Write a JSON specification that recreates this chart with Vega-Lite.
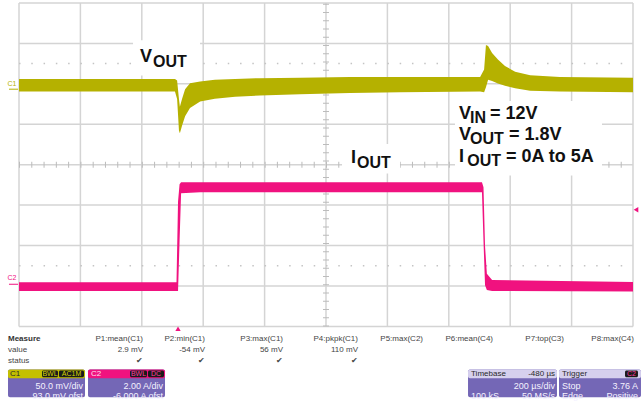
{
  "$schema": "https://vega.github.io/schema/vega-lite/v6.json",
  "width": 642,
  "height": 402,
  "padding": 0,
  "autosize": {"type": "fit", "contains": "padding"},
  "background": "white",
  "config": {"view": {"stroke": null}, "text": {"font": "Liberation Sans"}},
  "resolve": {"scale": {"x": "independent", "y": "independent"}},
  "layer": [
    {
      "layer": [
        {
          "data": {"values": [{"xd": 0}, {"xd": 1}, {"xd": 2}, {"xd": 3}, {"xd": 4}, {"xd": 5}, {"xd": 6}, {"xd": 7}, {"xd": 8}, {"xd": 9}, {"xd": 10}]},
          "mark": {"type": "rule", "color": "#d4d4d4", "strokeWidth": 1.5},
          "encoding": {
            "x": {"field": "xd", "type": "quantitative", "scale": {"domain": [-0.30945, 10.1466], "nice": false, "zero": false}, "axis": null},
            "y": {"datum": -4, "type": "quantitative", "scale": {"domain": [-5.697, 4.0485], "nice": false, "zero": false}, "axis": null},
            "y2": {"datum": 4}
          }
        },
        {
          "data": {"values": [{"yd": -4}, {"yd": -3}, {"yd": -2}, {"yd": -1}, {"yd": 0}, {"yd": 1}, {"yd": 2}, {"yd": 3}, {"yd": 4}]},
          "mark": {"type": "rule", "color": "#d4d4d4", "strokeWidth": 1.5},
          "encoding": {
            "y": {"field": "yd", "type": "quantitative", "scale": {"domain": [-5.697, 4.0485], "nice": false, "zero": false}, "axis": null},
            "x": {"datum": 0, "type": "quantitative", "scale": {"domain": [-0.30945, 10.1466], "nice": false, "zero": false}, "axis": null},
            "x2": {"datum": 10}
          }
        },
        {
          "data": {"values": [{"yd": 0}]},
          "mark": {"type": "rule", "color": "#bcbcbc", "strokeWidth": 6, "strokeDash": [1, 11.28]},
          "encoding": {
            "y": {"field": "yd", "type": "quantitative", "scale": {"domain": [-5.697, 4.0485], "nice": false, "zero": false}, "axis": null},
            "x": {"datum": 0, "type": "quantitative", "scale": {"domain": [-0.30945, 10.1466], "nice": false, "zero": false}, "axis": null},
            "x2": {"datum": 10}
          }
        },
        {
          "data": {"values": [{"yd": 2.5}, {"yd": -2.5}]},
          "mark": {"type": "rule", "color": "#c4c4c4", "strokeWidth": 1.5, "strokeDash": [1.5, 10.78]},
          "encoding": {
            "y": {"field": "yd", "type": "quantitative", "scale": {"domain": [-5.697, 4.0485], "nice": false, "zero": false}, "axis": null},
            "x": {"datum": 0, "type": "quantitative", "scale": {"domain": [-0.30945, 10.1466], "nice": false, "zero": false}, "axis": null},
            "x2": {"datum": 10}
          }
        },
        {
          "data": {"values": [{"xd": 5}]},
          "mark": {"type": "rule", "color": "#bcbcbc", "strokeWidth": 6, "strokeDash": [1, 7.25]},
          "encoding": {
            "x": {"field": "xd", "type": "quantitative", "scale": {"domain": [-0.30945, 10.1466], "nice": false, "zero": false}, "axis": null},
            "y": {"datum": -4, "type": "quantitative", "scale": {"domain": [-5.697, 4.0485], "nice": false, "zero": false}, "axis": null},
            "y2": {"datum": 4}
          }
        },
        {
          "data": {"values": [
            {"x1": 1.857, "x2": 2.948, "y1": 3.079, "y2": 2.206},
            {"x1": 5.261, "x2": 6.205, "y1": 0.509, "y2": -0.218},
            {"x1": 7.101, "x2": 9.495, "y1": 1.576, "y2": -0.267}
          ]},
          "mark": {"type": "rect", "color": "white"},
          "encoding": {
            "x": {"field": "x1", "type": "quantitative", "scale": {"domain": [-0.30945, 10.1466], "nice": false, "zero": false}, "axis": null},
            "x2": {"field": "x2"},
            "y": {"field": "y1", "type": "quantitative", "scale": {"domain": [-5.697, 4.0485], "nice": false, "zero": false}, "axis": null},
            "y2": {"field": "y2"}
          }
        }
      ]
    },
    {
      "data": {"values": [
        {"t": -520, "hi": 6.0, "lo": -9.5},
        {"t": -12, "hi": 6.0, "lo": -9.5},
        {"t": -5, "hi": 4.2, "lo": -18.8},
        {"t": 1, "hi": -18.8, "lo": -57.6},
        {"t": 4, "hi": -28.5, "lo": -61.2},
        {"t": 11, "hi": -18.8, "lo": -52.0},
        {"t": 21, "hi": -6.7, "lo": -40.0},
        {"t": 37, "hi": 0.6, "lo": -30.0},
        {"t": 70, "hi": 3.0, "lo": -22.0},
        {"t": 118, "hi": 5.0, "lo": -18.5},
        {"t": 184, "hi": 6.0, "lo": -16.0},
        {"t": 265, "hi": 7.0, "lo": -14.5},
        {"t": 395, "hi": 7.5, "lo": -13.0},
        {"t": 558, "hi": 8.5, "lo": -11.5},
        {"t": 721, "hi": 8.5, "lo": -10.5},
        {"t": 982, "hi": 8.5, "lo": -9.5},
        {"t": 995, "hi": 17.6, "lo": -10.5},
        {"t": 1001, "hi": 47.9, "lo": -4.2},
        {"t": 1008, "hi": 46.7, "lo": 5.0},
        {"t": 1021, "hi": 38.0, "lo": 3.5},
        {"t": 1040, "hi": 30.0, "lo": 0.5},
        {"t": 1063, "hi": 22.0, "lo": -2.5},
        {"t": 1096, "hi": 15.0, "lo": -5.5},
        {"t": 1145, "hi": 10.5, "lo": -8.5},
        {"t": 1242, "hi": 8.5, "lo": -9.5},
        {"t": 1480, "hi": 7.5, "lo": -10.5}
      ]},
      "mark": {"type": "area", "color": "#b5b100", "opacity": 1},
      "encoding": {
        "x": {"field": "t", "type": "quantitative", "scale": {"domain": [-581.9, 1509.3], "nice": false, "zero": false}, "axis": null},
        "y": {"field": "hi", "type": "quantitative", "scale": {"domain": [-384.85, 102.42], "nice": false, "zero": false}, "axis": null},
        "y2": {"field": "lo"}
      }
    },
    {
      "data": {"values": [
        {"t": -520, "hi": 0.18, "lo": -0.25},
        {"t": -7, "hi": 0.18, "lo": -0.25},
        {"t": -2, "hi": 4.16, "lo": -0.25},
        {"t": 3, "hi": 5.03, "lo": 2.22},
        {"t": 8, "hi": 5.13, "lo": 4.59},
        {"t": 70, "hi": 5.13, "lo": 4.64},
        {"t": 988, "hi": 5.13, "lo": 4.64},
        {"t": 993, "hi": 4.88, "lo": 2.22},
        {"t": 998, "hi": 1.98, "lo": 0.04},
        {"t": 1004, "hi": 0.6, "lo": -0.2},
        {"t": 1021, "hi": 0.3, "lo": -0.25},
        {"t": 1480, "hi": 0.2, "lo": -0.28}
      ]},
      "mark": {"type": "area", "color": "#f0127f", "opacity": 1},
      "encoding": {
        "x": {"field": "t", "type": "quantitative", "scale": {"domain": [-581.9, 1509.3], "nice": false, "zero": false}, "axis": null},
        "y": {"field": "hi", "type": "quantitative", "scale": {"domain": [-5.394, 14.097], "nice": false, "zero": false}, "axis": null},
        "y2": {"field": "lo"}
      }
    },
    {
      "layer": [
        {
          "data": {"values": [
            {"x": 1.971, "y": 2.545, "label": "V"},
            {"x": 5.407, "y": 0.048, "label": "I"},
            {"x": 7.166, "y": 1.139, "label": "V"},
            {"x": 7.67, "y": 1.139, "label": "= 12V"},
            {"x": 7.166, "y": 0.606, "label": "V"},
            {"x": 7.98, "y": 0.606, "label": "= 1.8V"},
            {"x": 7.166, "y": 0.073, "label": "I"},
            {"x": 7.93, "y": 0.073, "label": "= 0A to 5A"}
          ]},
          "mark": {"type": "text", "fontSize": 18, "fontWeight": "bold", "align": "left", "baseline": "alphabetic", "color": "#111111"},
          "encoding": {
            "x": {"field": "x", "type": "quantitative", "scale": {"domain": [-0.30945, 10.1466], "nice": false, "zero": false}, "axis": null},
            "y": {"field": "y", "type": "quantitative", "scale": {"domain": [-5.697, 4.0485], "nice": false, "zero": false}, "axis": null},
            "text": {"field": "label"}
          }
        },
        {
          "data": {"values": [
            {"x": 2.182, "y": 2.424, "label": "OUT"},
            {"x": 5.505, "y": -0.073, "label": "OUT"},
            {"x": 7.345, "y": 1.042, "label": "IN"},
            {"x": 7.345, "y": 0.509, "label": "OUT"},
            {"x": 7.3, "y": -0.024, "label": "OUT"}
          ]},
          "mark": {"type": "text", "fontSize": 16, "fontWeight": "bold", "align": "left", "baseline": "alphabetic", "color": "#111111"},
          "encoding": {
            "x": {"field": "x", "type": "quantitative", "scale": {"domain": [-0.30945, 10.1466], "nice": false, "zero": false}, "axis": null},
            "y": {"field": "y", "type": "quantitative", "scale": {"domain": [-5.697, 4.0485], "nice": false, "zero": false}, "axis": null},
            "text": {"field": "label"}
          }
        },
        {
          "data": {"values": [{"x": -0.114, "y": 1.988, "label": "C1"}]},
          "mark": {"type": "text", "fontSize": 7, "align": "center", "baseline": "middle", "color": "#b5b100"},
          "encoding": {
            "x": {"field": "x", "type": "quantitative", "scale": {"domain": [-0.30945, 10.1466], "nice": false, "zero": false}, "axis": null},
            "y": {"field": "y", "type": "quantitative", "scale": {"domain": [-5.697, 4.0485], "nice": false, "zero": false}, "axis": null},
            "text": {"field": "label"}
          }
        },
        {
          "data": {"values": [{"x": -0.114, "y": -2.812, "label": "C2"}]},
          "mark": {"type": "text", "fontSize": 7, "align": "center", "baseline": "middle", "color": "#f0127f"},
          "encoding": {
            "x": {"field": "x", "type": "quantitative", "scale": {"domain": [-0.30945, 10.1466], "nice": false, "zero": false}, "axis": null},
            "y": {"field": "y", "type": "quantitative", "scale": {"domain": [-5.697, 4.0485], "nice": false, "zero": false}, "axis": null},
            "text": {"field": "label"}
          }
        },
        {
          "data": {"values": [{"x1": -0.163, "x2": -0.016, "y": 1.867}]},
          "mark": {"type": "rule", "strokeWidth": 1, "color": "#b5b100"},
          "encoding": {
            "x": {"field": "x1", "type": "quantitative", "scale": {"domain": [-0.30945, 10.1466], "nice": false, "zero": false}, "axis": null},
            "x2": {"field": "x2"},
            "y": {"field": "y", "type": "quantitative", "scale": {"domain": [-5.697, 4.0485], "nice": false, "zero": false}, "axis": null}
          }
        },
        {
          "data": {"values": [{"x1": -0.163, "x2": -0.016, "y": -2.958}]},
          "mark": {"type": "rule", "strokeWidth": 1, "color": "#f0127f"},
          "encoding": {
            "x": {"field": "x1", "type": "quantitative", "scale": {"domain": [-0.30945, 10.1466], "nice": false, "zero": false}, "axis": null},
            "x2": {"field": "x2"},
            "y": {"field": "y", "type": "quantitative", "scale": {"domain": [-5.697, 4.0485], "nice": false, "zero": false}, "axis": null}
          }
        },
        {
          "data": {"values": [{"x": 2.59, "y": -4.06}]},
          "mark": {"type": "point", "shape": "triangle-up", "filled": true, "size": 28, "color": "#f0127f", "opacity": 1},
          "encoding": {
            "x": {"field": "x", "type": "quantitative", "scale": {"domain": [-0.30945, 10.1466], "nice": false, "zero": false}, "axis": null},
            "y": {"field": "y", "type": "quantitative", "scale": {"domain": [-5.697, 4.0485], "nice": false, "zero": false}, "axis": null}
          }
        },
        {
          "data": {"values": [{"x": 10.049, "y": -1.115}]},
          "mark": {"type": "point", "shape": "triangle-left", "filled": true, "size": 28, "color": "#f0127f", "opacity": 1},
          "encoding": {
            "x": {"field": "x", "type": "quantitative", "scale": {"domain": [-0.30945, 10.1466], "nice": false, "zero": false}, "axis": null},
            "y": {"field": "y", "type": "quantitative", "scale": {"domain": [-5.697, 4.0485], "nice": false, "zero": false}, "axis": null}
          }
        },
        {
          "data": {"values": [
            {"x1": -0.179, "x2": 1.075},
            {"x1": 1.124, "x2": 2.378},
            {"x1": 7.313, "x2": 8.762},
            {"x1": 8.795, "x2": 10.13}
          ]},
          "mark": {"type": "rect", "color": "#7467b6", "cornerRadius": 2},
          "encoding": {
            "x": {"field": "x1", "type": "quantitative", "scale": {"domain": [-0.30945, 10.1466], "nice": false, "zero": false}, "axis": null},
            "x2": {"field": "x2"},
            "y": {"datum": -5.067, "type": "quantitative", "scale": {"domain": [-5.697, 4.0485], "nice": false, "zero": false}, "axis": null},
            "y2": {"datum": -5.75}
          }
        },
        {
          "data": {"values": [{"x1": -0.179, "x2": 1.075}]},
          "mark": {"type": "rect", "color": "#c4c000", "cornerRadius": 2},
          "encoding": {
            "x": {"field": "x1", "type": "quantitative", "scale": {"domain": [-0.30945, 10.1466], "nice": false, "zero": false}, "axis": null},
            "x2": {"field": "x2"},
            "y": {"datum": -5.067, "type": "quantitative", "scale": {"domain": [-5.697, 4.0485], "nice": false, "zero": false}, "axis": null},
            "y2": {"datum": -5.285}
          }
        },
        {
          "data": {"values": [{"x1": 1.124, "x2": 2.378}]},
          "mark": {"type": "rect", "color": "#f0127f", "cornerRadius": 2},
          "encoding": {
            "x": {"field": "x1", "type": "quantitative", "scale": {"domain": [-0.30945, 10.1466], "nice": false, "zero": false}, "axis": null},
            "x2": {"field": "x2"},
            "y": {"datum": -5.067, "type": "quantitative", "scale": {"domain": [-5.697, 4.0485], "nice": false, "zero": false}, "axis": null},
            "y2": {"datum": -5.285}
          }
        },
        {
          "data": {"values": [{"x1": 7.313, "x2": 8.762}, {"x1": 8.795, "x2": 10.13}]},
          "mark": {"type": "rect", "color": "#d6d0ee", "cornerRadius": 2},
          "encoding": {
            "x": {"field": "x1", "type": "quantitative", "scale": {"domain": [-0.30945, 10.1466], "nice": false, "zero": false}, "axis": null},
            "x2": {"field": "x2"},
            "y": {"datum": -5.067, "type": "quantitative", "scale": {"domain": [-5.697, 4.0485], "nice": false, "zero": false}, "axis": null},
            "y2": {"datum": -5.285}
          }
        },
        {
          "data": {"values": [
            {"x1": 0.375, "x2": 0.635},
            {"x1": 0.651, "x2": 1.059},
            {"x1": 1.808, "x2": 2.085},
            {"x1": 2.101, "x2": 2.362},
            {"x1": 9.87, "x2": 10.081}
          ]},
          "mark": {"type": "rect", "color": "#1a1a1a", "cornerRadius": 1.5},
          "encoding": {
            "x": {"field": "x1", "type": "quantitative", "scale": {"domain": [-0.30945, 10.1466], "nice": false, "zero": false}, "axis": null},
            "x2": {"field": "x2"},
            "y": {"datum": -5.091, "type": "quantitative", "scale": {"domain": [-5.697, 4.0485], "nice": false, "zero": false}, "axis": null},
            "y2": {"datum": -5.261}
          }
        },
        {
          "data": {"values": [{"x": 0.505, "label": "BWL"}, {"x": 0.855, "label": "AC1M"}]},
          "mark": {"type": "text", "fontSize": 7, "align": "center", "baseline": "middle", "color": "#d8d400"},
          "encoding": {
            "x": {"field": "x", "type": "quantitative", "scale": {"domain": [-0.30945, 10.1466], "nice": false, "zero": false}, "axis": null},
            "y": {"datum": -5.176, "type": "quantitative", "scale": {"domain": [-5.697, 4.0485], "nice": false, "zero": false}, "axis": null},
            "text": {"field": "label"}
          }
        },
        {
          "data": {"values": [{"x": 1.946, "label": "BWL"}, {"x": 2.231, "label": "DC"}, {"x": 9.975, "label": "C2"}]},
          "mark": {"type": "text", "fontSize": 7, "align": "center", "baseline": "middle", "color": "#ff3aa0"},
          "encoding": {
            "x": {"field": "x", "type": "quantitative", "scale": {"domain": [-0.30945, 10.1466], "nice": false, "zero": false}, "axis": null},
            "y": {"datum": -5.176, "type": "quantitative", "scale": {"domain": [-5.697, 4.0485], "nice": false, "zero": false}, "axis": null},
            "text": {"field": "label"}
          }
        },
        {
          "data": {"values": [
            {"x": -0.147, "label": "C1"},
            {"x": 7.362, "label": "Timebase"},
            {"x": 8.844, "label": "Trigger"}
          ]},
          "mark": {"type": "text", "fontSize": 8, "align": "left", "baseline": "middle", "color": "#2a2a2a"},
          "encoding": {
            "x": {"field": "x", "type": "quantitative", "scale": {"domain": [-0.30945, 10.1466], "nice": false, "zero": false}, "axis": null},
            "y": {"datum": -5.176, "type": "quantitative", "scale": {"domain": [-5.697, 4.0485], "nice": false, "zero": false}, "axis": null},
            "text": {"field": "label"}
          }
        },
        {
          "data": {"values": [{"x": 1.173, "label": "C2"}]},
          "mark": {"type": "text", "fontSize": 8, "align": "left", "baseline": "middle", "color": "#ffe0f0"},
          "encoding": {
            "x": {"field": "x", "type": "quantitative", "scale": {"domain": [-0.30945, 10.1466], "nice": false, "zero": false}, "axis": null},
            "y": {"datum": -5.176, "type": "quantitative", "scale": {"domain": [-5.697, 4.0485], "nice": false, "zero": false}, "axis": null},
            "text": {"field": "label"}
          }
        },
        {
          "data": {"values": [{"x": 8.73, "label": "-480 µs"}]},
          "mark": {"type": "text", "fontSize": 8, "align": "right", "baseline": "middle", "color": "#2a2a2a"},
          "encoding": {
            "x": {"field": "x", "type": "quantitative", "scale": {"domain": [-0.30945, 10.1466], "nice": false, "zero": false}, "axis": null},
            "y": {"datum": -5.176, "type": "quantitative", "scale": {"domain": [-5.697, 4.0485], "nice": false, "zero": false}, "axis": null},
            "text": {"field": "label"}
          }
        },
        {
          "data": {"values": [
            {"x": 1.042, "y": -5.48, "label": "50.0 mV/div"},
            {"x": 2.345, "y": -5.48, "label": "2.00 A/div"},
            {"x": 8.73, "y": -5.48, "label": "200 µs/div"},
            {"x": 10.081, "y": -5.48, "label": "3.76 A"},
            {"x": 1.042, "y": -5.73, "label": "93.0 mV ofst"},
            {"x": 2.345, "y": -5.73, "label": "-6.000 A ofst"},
            {"x": 8.73, "y": -5.73, "label": "50 MS/s"},
            {"x": 10.081, "y": -5.73, "label": "Positive"}
          ]},
          "mark": {"type": "text", "fontSize": 9, "align": "right", "baseline": "middle", "color": "#f4f2ff"},
          "encoding": {
            "x": {"field": "x", "type": "quantitative", "scale": {"domain": [-0.30945, 10.1466], "nice": false, "zero": false}, "axis": null},
            "y": {"field": "y", "type": "quantitative", "scale": {"domain": [-5.697, 4.0485], "nice": false, "zero": false}, "axis": null},
            "text": {"field": "label"}
          }
        },
        {
          "data": {"values": [
            {"x": 8.844, "y": -5.48, "label": "Stop"},
            {"x": 7.362, "y": -5.73, "label": "100 kS"},
            {"x": 8.844, "y": -5.73, "label": "Edge"}
          ]},
          "mark": {"type": "text", "fontSize": 9, "align": "left", "baseline": "middle", "color": "#f4f2ff"},
          "encoding": {
            "x": {"field": "x", "type": "quantitative", "scale": {"domain": [-0.30945, 10.1466], "nice": false, "zero": false}, "axis": null},
            "y": {"field": "y", "type": "quantitative", "scale": {"domain": [-5.697, 4.0485], "nice": false, "zero": false}, "axis": null},
            "text": {"field": "label"}
          }
        },
        {
          "data": {"values": [{"x": -0.179, "y": -4.315, "label": "Measure"}]},
          "mark": {"type": "text", "fontSize": 8, "fontWeight": "bold", "align": "left", "baseline": "middle", "color": "#333333"},
          "encoding": {
            "x": {"field": "x", "type": "quantitative", "scale": {"domain": [-0.30945, 10.1466], "nice": false, "zero": false}, "axis": null},
            "y": {"field": "y", "type": "quantitative", "scale": {"domain": [-5.697, 4.0485], "nice": false, "zero": false}, "axis": null},
            "text": {"field": "label"}
          }
        },
        {
          "data": {"values": [
            {"x": -0.179, "y": -4.594, "label": "value"},
            {"x": -0.179, "y": -4.861, "label": "status"}
          ]},
          "mark": {"type": "text", "fontSize": 8, "align": "left", "baseline": "middle", "color": "#444444"},
          "encoding": {
            "x": {"field": "x", "type": "quantitative", "scale": {"domain": [-0.30945, 10.1466], "nice": false, "zero": false}, "axis": null},
            "y": {"field": "y", "type": "quantitative", "scale": {"domain": [-5.697, 4.0485], "nice": false, "zero": false}, "axis": null},
            "text": {"field": "label"}
          }
        },
        {
          "data": {"values": [
            {"x": 2.02, "y": -4.315, "label": "P1:mean(C1)"},
            {"x": 3.029, "y": -4.315, "label": "P2:min(C1)"},
            {"x": 4.3, "y": -4.315, "label": "P3:max(C1)"},
            {"x": 5.521, "y": -4.315, "label": "P4:pkpk(C1)"},
            {"x": 6.58, "y": -4.315, "label": "P5:max(C2)"},
            {"x": 7.72, "y": -4.315, "label": "P6:mean(C4)"},
            {"x": 8.876, "y": -4.315, "label": "P7:top(C3)"},
            {"x": 10.016, "y": -4.315, "label": "P8:max(C4)"},
            {"x": 2.02, "y": -4.594, "label": "2.9 mV"},
            {"x": 3.029, "y": -4.594, "label": "-54 mV"},
            {"x": 4.3, "y": -4.594, "label": "56 mV"},
            {"x": 5.521, "y": -4.594, "label": "110 mV"},
            {"x": 2.02, "y": -4.861, "label": "✔"},
            {"x": 3.029, "y": -4.861, "label": "✔"},
            {"x": 4.3, "y": -4.861, "label": "✔"},
            {"x": 5.521, "y": -4.861, "label": "✔"}
          ]},
          "mark": {"type": "text", "fontSize": 8, "align": "right", "baseline": "middle", "color": "#444444"},
          "encoding": {
            "x": {"field": "x", "type": "quantitative", "scale": {"domain": [-0.30945, 10.1466], "nice": false, "zero": false}, "axis": null},
            "y": {"field": "y", "type": "quantitative", "scale": {"domain": [-5.697, 4.0485], "nice": false, "zero": false}, "axis": null},
            "text": {"field": "label"}
          }
        }
      ]
    }
  ]
}
